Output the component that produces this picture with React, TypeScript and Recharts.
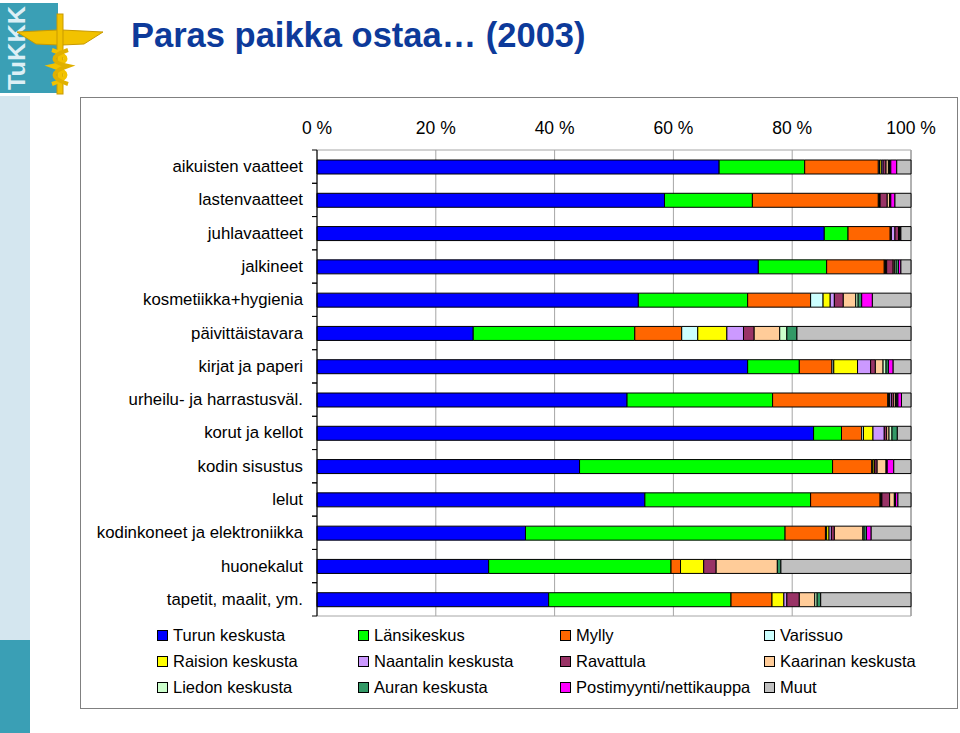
import React from 'react';
import { BarChart, Bar, XAxis, YAxis, CartesianGrid, ReferenceArea } from 'recharts';

const categories = [
  'aikuisten vaatteet',
  'lastenvaatteet',
  'juhlavaatteet',
  'jalkineet',
  'kosmetiikka+hygienia',
  'päivittäistavara',
  'kirjat ja paperi',
  'urheilu- ja harrastusväl.',
  'korut ja kellot',
  'kodin sisustus',
  'lelut',
  'kodinkoneet ja elektroniikka',
  'huonekalut',
  'tapetit, maalit, ym.',
];

// shares in percent, one value per category (same order as above)
const turunKeskusta = [67.7, 58.5, 85.4, 74.3, 54.1, 26.3, 72.5, 52.2, 83.6, 44.2, 55.2, 35.1, 28.9, 39.0];
const lansikeskus = [14.4, 14.8, 4.0, 11.5, 18.4, 27.2, 8.7, 24.5, 4.7, 42.6, 27.9, 43.7, 30.7, 30.7];
const mylly = [12.4, 21.2, 7.1, 9.7, 10.6, 7.9, 5.5, 19.4, 3.4, 6.6, 11.7, 6.8, 1.6, 6.9];
const varissuo = [0.2, 0.1, 0.1, 0.1, 2.1, 2.7, 0.3, 0.1, 0.3, 0.1, 0.1, 0.2, 0, 0];
const raisionKeskusta = [0.3, 0.1, 0.1, 0.1, 1.2, 4.9, 4.0, 0.2, 1.6, 0.3, 0.1, 0.4, 3.9, 2.0];
const naantalinKeskusta = [0.3, 0.1, 0.6, 0.2, 0.7, 2.8, 2.2, 0.3, 1.9, 0.1, 0.1, 0.4, 0, 0.5];
const ravattula = [0.5, 1.2, 0.6, 1.1, 1.5, 1.8, 0.8, 0.4, 0.4, 0.4, 1.3, 0.5, 2.1, 2.1];
const kaarinanKeskusta = [0.4, 0.4, 0.1, 0.2, 2.1, 4.3, 1.3, 0.3, 0.4, 1.5, 0.8, 4.8, 10.3, 2.6];
const liedonKeskusta = [0.2, 0.1, 0.1, 0.3, 0.4, 1.2, 0.5, 0.2, 0.5, 0.1, 0.1, 0.2, 0, 0.4];
const auranKeskusta = [0.2, 0.1, 0.1, 0.4, 0.6, 1.7, 0.4, 0.2, 0.9, 0.1, 0.1, 0.4, 0.6, 0.6];
const postimyynti = [1.0, 0.7, 0.1, 0.4, 1.8, 0, 0.8, 0.6, 0, 1.1, 0.4, 0.8, 0, 0];
const muut = [2.4, 2.7, 1.7, 1.7, 6.5, 19.2, 3.0, 1.6, 2.3, 2.9, 2.2, 6.7, 21.9, 15.2];

const xTicks = [0, 20, 40, 60, 80, 100];

const series = [
  { key: 'turun', name: 'Turun keskusta', color: '#0000FF', values: turunKeskusta },
  { key: 'lansi', name: 'Länsikeskus', color: '#00FF00', values: lansikeskus },
  { key: 'mylly', name: 'Mylly', color: '#FF6600', values: mylly },
  { key: 'varissuo', name: 'Varissuo', color: '#CCFFFF', values: varissuo },
  { key: 'raisio', name: 'Raision keskusta', color: '#FFFF00', values: raisionKeskusta },
  { key: 'naantali', name: 'Naantalin keskusta', color: '#CC99FF', values: naantalinKeskusta },
  { key: 'ravattula', name: 'Ravattula', color: '#993366', values: ravattula },
  { key: 'kaarina', name: 'Kaarinan keskusta', color: '#FFCC99', values: kaarinanKeskusta },
  { key: 'lieto', name: 'Liedon keskusta', color: '#CCFFCC', values: liedonKeskusta },
  { key: 'aura', name: 'Auran keskusta', color: '#339966', values: auranKeskusta },
  { key: 'posti', name: 'Postimyynti/nettikauppa', color: '#FF00FF', values: postimyynti },
  { key: 'muut', name: 'Muut', color: '#C0C0C0', values: muut },
];

const data = categories.map((cat, i) => {
  const row: Record<string, string | number> = { cat };
  series.forEach(s => { row[s.key] = s.values[i]; });
  return row;
});

const FONT = '"Liberation Sans", Arial, sans-serif';
const CHART_W = 877;
const CHART_H = 530;
const MARGIN = { top: 23, right: 46, bottom: 11, left: 0 };
const X_AXIS_H = 30;
const Y_AXIS_W = 237;
// half of one category band, for the boundary tick marks
const HALF_BAND = (CHART_H - MARGIN.top - MARGIN.bottom - X_AXIS_H) / categories.length / 2;

const CategoryTick = (props: any) => {
  const { x, y, payload } = props;
  return (
    <g>
      <text x={x} y={y} textAnchor="end" dominantBaseline="central" fontSize={16.8} fill="#000" fontFamily={FONT}>
        {payload.value}
      </text>
      <line x1={x + 9} x2={x + 14} y1={y - HALF_BAND} y2={y - HALF_BAND} stroke="#000" />
      <line x1={x + 9} x2={x + 14} y1={y + HALF_BAND} y2={y + HALF_BAND} stroke="#000" />
    </g>
  );
};

const Logo = () => (
  <svg width={106} height={96} style={{ position: 'absolute', left: 0, top: 0 }}>
    <rect x={0} y={3} width={58} height={90} fill="#3a9fb5" />
    <text
      x={0}
      y={0}
      transform="translate(25,90) rotate(-90)"
      fontSize={24}
      fontWeight="bold"
      fill="#dceff5"
      fontFamily={FONT}
      textLength={84}
      lengthAdjust="spacingAndGlyphs"
    >
      TuKKK
    </text>
    {/* wings */}
    <polygon points="17,32 58,30 58,45 36,44" fill="#f2c200" stroke="#c99a00" strokeWidth={1} />
    <polygon points="103,32 62,30 62,45 84,44" fill="#f2c200" stroke="#c99a00" strokeWidth={1} />
    {/* staff */}
    <rect x={57} y={14} width={6} height={80} fill="#f2c200" stroke="#c99a00" strokeWidth={1} />
    <path d="M52,50 C70,56 70,62 52,66 C70,72 70,78 52,84" fill="none" stroke="#f2c200" strokeWidth={4} />
    <path d="M68,50 C50,56 50,62 68,66 C50,72 50,78 68,84" fill="none" stroke="#e0b000" strokeWidth={4} />
  </svg>
);

export default function App() {
  return (
    <div style={{ position: 'absolute', left: 0, top: 0, width: 960, height: 733, background: '#fff', overflow: 'hidden', fontFamily: FONT }}>
      {/* left decoration strip */}
      <div style={{ position: 'absolute', left: 0, top: 96, width: 30, height: 544, background: '#d4e6ef' }} />
      <div style={{ position: 'absolute', left: 0, top: 640, width: 30, height: 93, background: '#3a9fb5' }} />
      <Logo />

      <div style={{ position: 'absolute', left: 131, top: 16, fontSize: 34.5, fontWeight: 'bold', color: '#0d3a9a', whiteSpace: 'nowrap' }}>
        Paras paikka ostaa… (2003)
      </div>

      {/* chart frame */}
      <div style={{ position: 'absolute', left: 80, top: 97, width: 876, height: 610, border: '1px solid #808080' }} />

      <div style={{ position: 'absolute', left: 80, top: 97 }}>
        <BarChart width={CHART_W} height={CHART_H} data={data} layout="vertical" margin={MARGIN} barSize={14}>
          <CartesianGrid horizontal={false} stroke="#a6a6a6" />
          <ReferenceArea x1={0} x2={100} fill="none" stroke="#a6a6a6" ifOverflow="visible" />
          <XAxis
            type="number"
            orientation="top"
            domain={[0, 100]}
            ticks={xTicks}
            tickFormatter={(v: number) => `${v} %`}
            height={X_AXIS_H}
            axisLine={false}
            tickLine={false}
            tickSize={6}
            tickMargin={10}
            tick={{ fontSize: 17.5, fill: '#000', fontFamily: FONT }}
          />
          <YAxis
            type="category"
            dataKey="cat"
            width={Y_AXIS_W}
            axisLine={{ stroke: '#000' }}
            tickLine={false}
            tickSize={6}
            tickMargin={8}
            tick={<CategoryTick />}
            interval={0}
          />
          {series.map(s => (
            <Bar
              key={s.key}
              dataKey={s.key}
              name={s.name}
              stackId="a"
              fill={s.color}
              stroke="#000"
              strokeWidth={1}
              isAnimationActive={false}
            />
          ))}
        </BarChart>
      </div>

      {/* legend */}
      <div
        style={{
          position: 'absolute',
          left: 157,
          top: 624,
          display: 'grid',
          gridTemplateColumns: '201px 202px 204px 180px',
          rowGap: 4,
          fontSize: 16.5,
          color: '#000',
        }}
      >
        {series.map(s => (
          <div key={s.key} style={{ display: 'flex', alignItems: 'center', height: 22, whiteSpace: 'nowrap' }}>
            <span style={{ width: 9, height: 9, background: s.color, border: '1px solid #000', marginRight: 5, flexShrink: 0 }} />
            {s.name}
          </div>
        ))}
      </div>
    </div>
  );
}
